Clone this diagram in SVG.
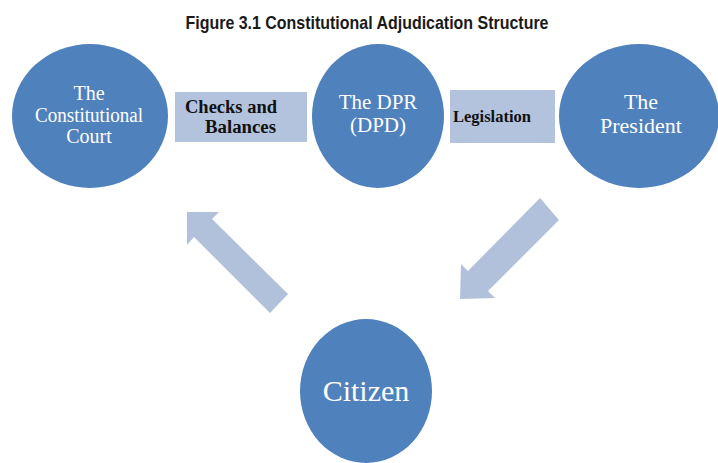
<svg xmlns="http://www.w3.org/2000/svg" width="718" height="463" viewBox="0 0 718 463">
<style>
.node{fill:#4f81bd}
.box{fill:#b3c3de}
.arrow{fill:#b1c1dc}
.nt{font-family:"Liberation Serif","Times New Roman",serif;fill:#ffffff;text-anchor:middle}
.bt{font-family:"Liberation Serif","Times New Roman",serif;font-weight:bold;fill:#111111}
.title{font-family:"Liberation Sans",Arial,sans-serif;font-weight:bold;font-size:19px;fill:#1a1a1a;text-anchor:middle}
</style>
<rect width="718" height="463" fill="#ffffff"/>
<text class="title" x="367" y="29" textLength="363" lengthAdjust="spacingAndGlyphs">Figure 3.1 Constitutional Adjudication Structure</text>
<g id="connectors">
  <g id="link-checks">
    <rect class="box" x="175" y="92" width="132" height="50"/>
    <text class="bt" x="185" y="113" font-size="18.5" textLength="92" lengthAdjust="spacingAndGlyphs">Checks and</text>
    <text class="bt" x="205" y="133" font-size="18.5" textLength="71" lengthAdjust="spacingAndGlyphs">Balances</text>
  </g>
  <g id="link-legislation">
    <rect class="box" x="450" y="90" width="105" height="53"/>
    <text class="bt" x="453" y="122" font-size="16.5" textLength="78" lengthAdjust="spacingAndGlyphs">Legislation</text>
  </g>
  <polygon id="arrow-citizen-court" class="arrow" points="187,212 219,212 212,219 288,294 270,313 194,237 187,245"/>
  <polygon id="arrow-president-citizen" class="arrow" points="540,198 559,220 488,291 495,298 460,299 461,264 468,271"/>
</g>
<g id="court">
  <ellipse class="node" cx="90" cy="116" rx="78" ry="72"/>
  <text class="nt" x="89" y="100" font-size="20">The</text>
  <text class="nt" x="89" y="122" font-size="20" textLength="108" lengthAdjust="spacingAndGlyphs">Constitutional</text>
  <text class="nt" x="89" y="143" font-size="20">Court</text>
</g>
<g id="dpr">
  <ellipse class="node" cx="378" cy="116" rx="66" ry="72"/>
  <text class="nt" x="378" y="109" font-size="21">The DPR</text>
  <text class="nt" x="378" y="132" font-size="21">(DPD)</text>
</g>
<g id="president">
  <ellipse class="node" cx="639" cy="116" rx="80" ry="72"/>
  <text class="nt" x="641" y="109" font-size="22">The</text>
  <text class="nt" x="641" y="133" font-size="22">President</text>
</g>
<g id="citizen">
  <ellipse class="node" cx="366" cy="391" rx="66" ry="72"/>
  <text class="nt" x="366" y="401" font-size="30">Citizen</text>
</g>
</svg>
